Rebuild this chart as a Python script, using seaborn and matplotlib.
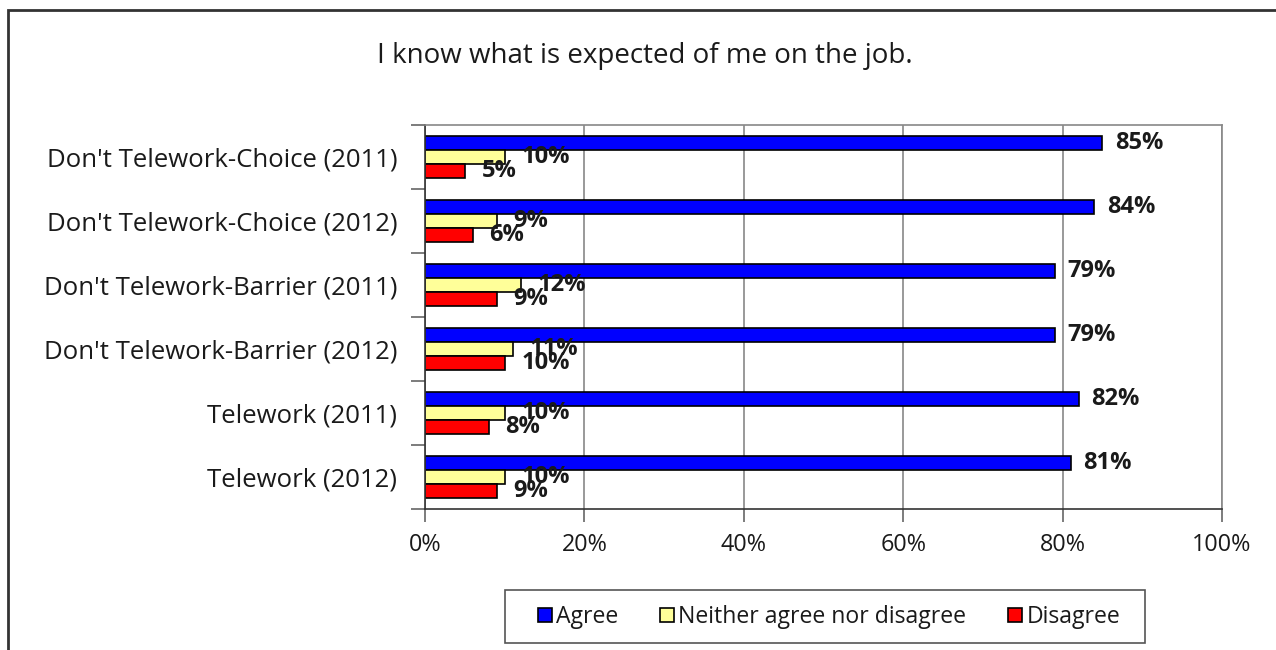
import matplotlib
matplotlib.use("Agg")
import matplotlib.pyplot as plt
from matplotlib.patches import Patch, Rectangle
from matplotlib.ticker import FixedLocator, PercentFormatter
import seaborn as sns
import pandas as pd

# Survey responses by telework group (percent of respondents)
groups = [
    "Don't Telework-Choice (2011)",
    "Don't Telework-Choice (2012)",
    "Don't Telework-Barrier (2011)",
    "Don't Telework-Barrier (2012)",
    "Telework (2011)",
    "Telework (2012)",
]
responses = ["Agree", "Neither agree nor disagree", "Disagree"]
agree = [85, 84, 79, 79, 82, 81]
neither = [10, 9, 12, 11, 10, 10]
disagree = [5, 6, 9, 10, 8, 9]
colors = ["#0000FF", "#FFFF99", "#FF0000"]
title = "I know what is expected of me on the job."

df = pd.DataFrame({
    "group": groups * 3,
    "response": [r for r in responses for _ in groups],
    "pct": agree + neither + disagree,
})

sns.set_theme(style="white")
plt.rcParams["font.family"] = ["Open Sans", "DejaVu Sans"]

fig = plt.figure(figsize=(12.76, 6.5), dpi=100)
ax = fig.add_axes([425 / 1276, 1 - 509 / 650, 797 / 1276, 384 / 650])

sns.barplot(
    data=df, y="group", x="pct", hue="response",
    order=groups, hue_order=responses, palette=colors,
    orient="h", width=0.67, dodge=True, legend=False,
    edgecolor="black", linewidth=1.2, saturation=1, ax=ax,
)

# Value labels at the end of each bar
for i, cont in enumerate(ax.containers):
    ax.bar_label(
        cont, labels=[f"{v:.0f}%" for v in cont.datavalues],
        padding=9 if i == 0 else 12, fontsize=17, fontweight="bold",
        color="#1a1a1a",
    )

ax.set_xlim(0, 100)
ax.set_ylim(len(groups) - 0.5, -0.5)
ax.set_xlabel("")
ax.set_ylabel("")
ax.xaxis.set_major_locator(FixedLocator([0, 20, 40, 60, 80, 100]))
ax.xaxis.set_major_formatter(PercentFormatter(decimals=0))
ax.grid(axis="x", color="#888888", linewidth=1.2)
ax.grid(axis="y", visible=False)
ax.set_axisbelow(True)

# Category ticks sit between groups, labels centred on each group
ax.yaxis.set_minor_locator(FixedLocator([k - 0.5 for k in range(len(groups) + 1)]))
ax.tick_params(axis="y", which="major", length=0, pad=20, labelsize=18.5, colors="#1a1a1a")
ax.tick_params(axis="y", which="minor", length=10, width=1.2, color="#666666", left=True)
ax.tick_params(axis="x", which="major", length=9, width=1.2, color="#666666",
               bottom=True, pad=8, labelsize=16.8, labelcolor="#1a1a1a")
for label in ax.get_yticklabels():
    label.set_color("#1a1a1a")

for side, sp in ax.spines.items():
    sp.set_visible(True)
    sp.set_color("#888888")
    sp.set_linewidth(1.2)
ax.spines["left"].set_color("#333333")
ax.spines["bottom"].set_color("#333333")

fig.text(645 / 1276, 1 - 56 / 650, title, ha="center", va="center",
         fontsize=20, color="#1a1a1a")

handles = [Patch(facecolor=c, edgecolor="black", linewidth=1.2) for c in colors]
leg = fig.legend(
    handles, responses, loc="center", bbox_to_anchor=(829 / 1276, 1 - 617 / 650),
    ncol=3, frameon=False, fontsize=16.6,
    handlelength=0.6, handleheight=0.6, handletextpad=0.2, columnspacing=1.8,
    borderpad=0.6,
)
for t in leg.get_texts():
    t.set_color("#1a1a1a")

# Legend box, wider than the entries it holds
fig.patches.append(Rectangle((505 / 1276, 1 - 643 / 650), 640 / 1276, 53 / 650,
                             transform=fig.transFigure, fill=False,
                             edgecolor="#555555", linewidth=1.2))

# Outer chart border (left and top edges visible)
fig.patches.append(Rectangle((8 / 1276, -0.1), 1.2, 1 - 10 / 650 + 0.1,
                             transform=fig.transFigure, fill=False,
                             edgecolor="#333333", linewidth=2))

fig.savefig("out.png", dpi=100)
